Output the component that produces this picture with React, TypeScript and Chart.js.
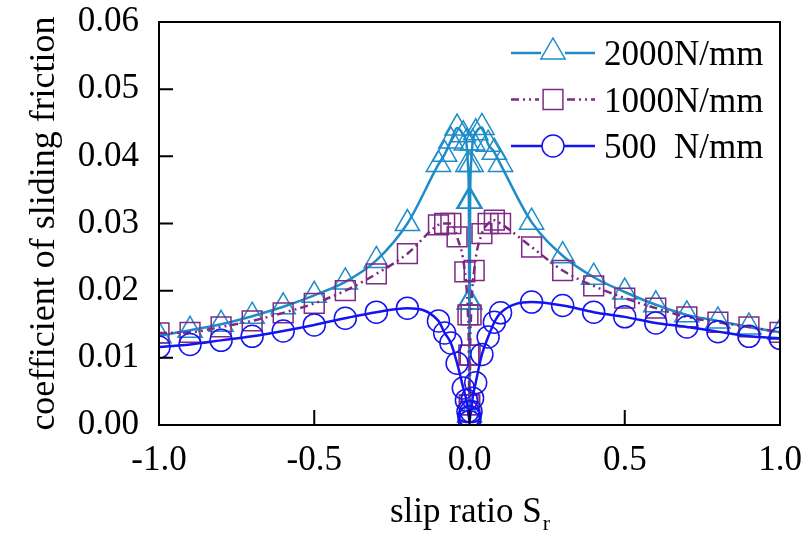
import React, { useEffect, useRef } from "react";
import { Chart, registerables } from "chart.js";

Chart.register(...registerables);

const FONT = "'Liberation Serif', 'Times New Roman', serif";

// ---- data (slip ratio vs. coefficient of sliding friction) ----
const x2000 = [-1, -0.9, -0.8, -0.7, -0.6, -0.5, -0.4, -0.3, -0.2, -0.1, -0.08, -0.06, -0.04, -0.02, -0.01, -0.005, -0.002, -0.001, 0, 0.001, 0.002, 0.005, 0.01, 0.02, 0.04, 0.06, 0.08, 0.1, 0.2, 0.3, 0.4, 0.5, 0.6, 0.7, 0.8, 0.9, 1];
const y2000 = [0.0133, 0.0141, 0.015, 0.0162, 0.0176, 0.0193, 0.0213, 0.0245, 0.03, 0.0388, 0.0403, 0.0423, 0.0442, 0.0432, 0.042, 0.0388, 0.0333, 0.0183, 0.0015, 0.0183, 0.0333, 0.0388, 0.042, 0.0435, 0.0443, 0.0418, 0.0406, 0.0388, 0.0302, 0.0252, 0.022, 0.0198, 0.0179, 0.0164, 0.0155, 0.0146, 0.0138];

const x1000 = [-1, -0.9, -0.8, -0.7, -0.6, -0.5, -0.4, -0.3, -0.2, -0.1, -0.08, -0.06, -0.04, -0.015, -0.005, -0.002, -0.001, 0, 0.001, 0.002, 0.005, 0.015, 0.04, 0.06, 0.08, 0.1, 0.2, 0.3, 0.4, 0.5, 0.6, 0.7, 0.8, 0.9, 1];
const y1000 = [0.0137, 0.0138, 0.0146, 0.0155, 0.0167, 0.0181, 0.02, 0.0225, 0.0255, 0.0298, 0.03, 0.03, 0.028, 0.0228, 0.0164, 0.0104, 0.003, 0.002, 0.003, 0.0104, 0.0164, 0.023, 0.0285, 0.03, 0.0305, 0.03, 0.0265, 0.023, 0.0207, 0.0189, 0.0174, 0.0161, 0.0153, 0.0146, 0.0138];

const x500 = [-1, -0.9, -0.8, -0.7, -0.6, -0.5, -0.4, -0.3, -0.2, -0.1, -0.08, -0.06, -0.04, -0.02, -0.01, -0.005, -0.002, 0, 0.002, 0.005, 0.01, 0.02, 0.04, 0.06, 0.08, 0.1, 0.2, 0.3, 0.4, 0.5, 0.6, 0.7, 0.8, 0.9, 1];
const y500 = [0.0116, 0.012, 0.0126, 0.0132, 0.014, 0.0149, 0.0159, 0.0168, 0.0174, 0.0155, 0.0137, 0.0122, 0.0092, 0.0055, 0.0037, 0.002, 0.0012, 0.0005, 0.0012, 0.002, 0.004, 0.0063, 0.0105, 0.0131, 0.0153, 0.0167, 0.0183, 0.0178, 0.0168, 0.0161, 0.0152, 0.0146, 0.0139, 0.0132, 0.0129];

const seriesLabels = ["2000N/mm", "1000N/mm", "500  N/mm"];
const xTicks = [-1, -0.5, 0, 0.5, 1];
const yTicks = [0, 0.01, 0.02, 0.03, 0.04, 0.05, 0.06];
const xTitleMain = "slip ratio S";
const xTitleSub = "r";
const yTitle = "coefficient of sliding friction";

const COLORS = ["#1e8cc8", "#7d2a82", "#1414f0"];
const DASHES: number[][] = [[], [8, 4, 2, 4, 2, 4], []];
const STYLES = ["triangle", "rect", "circle"];
const RADII = [14, 14, 11];

const toPts = (xs: number[], ys: number[]) => xs.map((x, i) => ({ x, y: ys[i] }));

function drawMarker(ctx: CanvasRenderingContext2D, style: string, x: number, y: number, r: number) {
  ctx.beginPath();
  if (style === "triangle") {
    ctx.moveTo(x, y - r);
    ctx.lineTo(x + 0.866 * r, y + r / 2);
    ctx.lineTo(x - 0.866 * r, y + r / 2);
    ctx.closePath();
  } else if (style === "rect") {
    const s = Math.SQRT1_2 * r;
    ctx.rect(x - s, y - s, 2 * s, 2 * s);
  } else {
    ctx.arc(x, y, r, 0, Math.PI * 2);
  }
  ctx.stroke();
}

const decorPlugin = {
  id: "decor",
  afterDraw(chart: any) {
    const { ctx, chartArea, scales } = chart;
    const { left, right, top, bottom } = chartArea;
    ctx.save();
    // frame
    ctx.strokeStyle = "#000";
    ctx.lineWidth = 2;
    ctx.setLineDash([]);
    ctx.strokeRect(left, top, right - left, bottom - top);
    // inside ticks
    ctx.beginPath();
    yTicks.forEach((v) => {
      const py = scales.y.getPixelForValue(v);
      ctx.moveTo(left, py);
      ctx.lineTo(left + 14, py);
    });
    xTicks.forEach((v) => {
      const px = scales.x.getPixelForValue(v);
      ctx.moveTo(px, bottom);
      ctx.lineTo(px, bottom - 15);
    });
    ctx.stroke();

    // legend
    const lx0 = 511, lx1 = 595, mx = 553;
    seriesLabels.forEach((label, i) => {
      const ly = 53 + i * 46.5;
      ctx.strokeStyle = COLORS[i];
      ctx.lineWidth = 2.5;
      ctx.setLineDash(DASHES[i]);
      const gap = STYLES[i] === "triangle" ? 12 : RADII[i];
      ctx.beginPath();
      ctx.moveTo(lx0, ly);
      ctx.lineTo(mx - gap, ly);
      ctx.moveTo(mx + gap, ly);
      ctx.lineTo(lx1, ly);
      ctx.stroke();
      ctx.setLineDash([]);
      ctx.lineWidth = 1.5;
      drawMarker(ctx, STYLES[i], mx, STYLES[i] === "triangle" ? ly - 1 : ly, RADII[i]);
      ctx.fillStyle = "#000";
      ctx.font = `35px ${FONT}`;
      ctx.textAlign = "left";
      ctx.textBaseline = "alphabetic";
      ctx.fillText(label, 604, ly + 12);
    });

    // x title with subscript
    ctx.fillStyle = "#000";
    ctx.textBaseline = "alphabetic";
    ctx.textAlign = "left";
    ctx.font = `35px ${FONT}`;
    const wMain = ctx.measureText(xTitleMain).width;
    ctx.font = `22px ${FONT}`;
    const wSub = ctx.measureText(xTitleSub).width;
    const cx = (left + right) / 2;
    const startX = cx - (wMain + wSub) / 2;
    ctx.font = `35px ${FONT}`;
    ctx.fillText(xTitleMain, startX, 522);
    ctx.font = `22px ${FONT}`;
    ctx.fillText(xTitleSub, startX + wMain + 1, 530);
    ctx.restore();
  },
};

export default function App() {
  const ref = useRef<HTMLCanvasElement | null>(null);
  useEffect(() => {
    if (!ref.current) return;
    const mk = (i: number, xs: number[], ys: number[]) => ({
      label: seriesLabels[i],
      data: toPts(xs, ys),
      borderColor: COLORS[i],
      borderWidth: 2.5,
      borderDash: DASHES[i],
      backgroundColor: "transparent",
      pointStyle: STYLES[i],
      pointRadius: RADII[i],
      pointBorderColor: COLORS[i],
      pointBackgroundColor: "rgba(0,0,0,0)",
      pointBorderWidth: 1.5,
      cubicInterpolationMode: "monotone",
      fill: false,
    });
    const chart = new Chart(ref.current, {
      type: "line",
      data: {
        datasets: [mk(2, x500, y500), mk(1, x1000, y1000), mk(0, x2000, y2000)] as any,
      },
      plugins: [decorPlugin],
      options: {
        animation: false,
        responsive: false,
        devicePixelRatio: 1,
        layout: { padding: { top: 22, right: 27, left: 0, bottom: 0 } },
        plugins: { legend: { display: false }, tooltip: { enabled: false } },
        scales: {
          x: {
            type: "linear",
            min: -1,
            max: 1,
            afterBuildTicks: (s: any) => {
              s.ticks = xTicks.map((v) => ({ value: v }));
            },
            afterFit: (s: any) => {
              s.height = 113;
              s.paddingLeft = 0;
              s.paddingRight = 0;
            },
            grid: { display: false, drawTicks: false },
            border: { display: false },
            ticks: {
              color: "#000",
              padding: 15,
              maxRotation: 0,
              autoSkip: false,
              font: { family: FONT, size: 35 },
              callback: (v: any) => Number(v).toFixed(1),
            },
          },
          y: {
            type: "linear",
            min: 0,
            max: 0.06,
            afterBuildTicks: (s: any) => {
              s.ticks = yTicks.map((v) => ({ value: v }));
            },
            afterFit: (s: any) => {
              s.width = 159;
              s.paddingTop = 0;
              s.paddingBottom = 0;
            },
            grid: { display: false, drawTicks: false },
            border: { display: false },
            title: {
              display: true,
              text: yTitle,
              color: "#000",
              font: { family: FONT, size: 36 },
              padding: { top: 23, bottom: 0 },
            },
            ticks: {
              color: "#000",
              padding: 20,
              autoSkip: false,
              font: { family: FONT, size: 35 },
              callback: (v: any) => Number(v).toFixed(2),
            },
          },
        },
      } as any,
    });
    return () => chart.destroy();
  }, []);
  return (
    <div style={{ position: "fixed", left: 0, top: 0, width: 807, height: 538, background: "#fff" }}>
      <canvas ref={ref} width={807} height={538} style={{ width: 807, height: 538, display: "block" }} />
    </div>
  );
}
